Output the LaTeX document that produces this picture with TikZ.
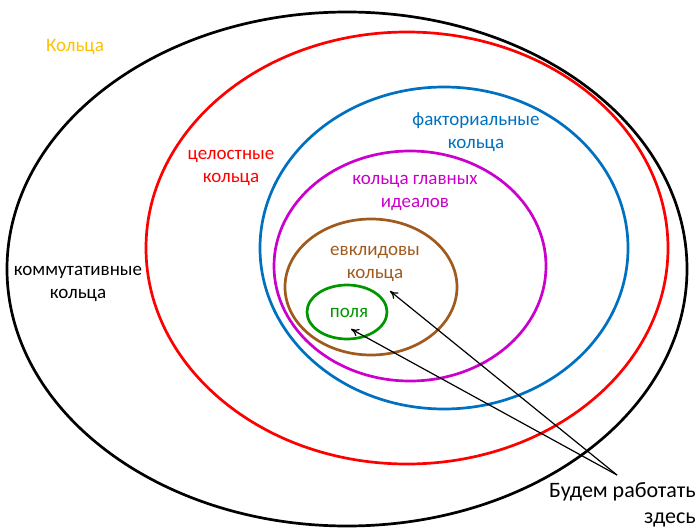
\documentclass[tikz,border=0pt]{standalone}
\usepackage{fontspec}
\setmainfont{Carlito}
\usetikzlibrary{arrows.meta,positioning}
\definecolor{ringgold}{RGB}{255,192,0}
\definecolor{ringred}{RGB}{255,0,0}
\definecolor{ringblue}{RGB}{0,112,192}
\definecolor{ringmag}{RGB}{204,0,204}
\definecolor{ringbrown}{RGB}{160,90,30}
\definecolor{ringgreen}{RGB}{0,150,0}

\begin{document}
\begin{tikzpicture}[x=1pt,y=-1pt,
  ring/.style={line width=2.7pt},
  lbl/.style={font=\fontsize{19}{23}\selectfont,align=center,inner sep=0pt},
  ptr/.style={-{To[length=8pt,width=8pt]},line width=1.2pt}]
\useasboundingbox (0,0) rectangle (697,530);
% nested classes of rings
\draw[ring,black] (347,269) ellipse (340 and 257);
\draw[ring,ringred] (407,248) ellipse (261 and 216);
\draw[ring,ringblue] (444,248) ellipse (184 and 161);
\draw[ring,ringmag] (410,266) ellipse (136 and 115);
\draw[ring,ringbrown] (371,287) ellipse (86 and 68);
\draw[ring,ringgreen] (347,312) ellipse (40 and 27);
% labels
\node[lbl,text=ringgold] (rings) at (75,47) {Кольца};
\node[lbl] (comm) at (78,284) {коммутативные\\кольца};
\node[lbl,text=ringred] (integ) at (231,168) {целостные\\кольца};
\node[lbl,text=ringblue] (fact) at (476,132) {факториальные\\кольца};
\node[lbl,text=ringmag] (pid) at (415,193) {кольца главных\\идеалов};
\node[lbl,text=ringbrown] (eucl) at (375,264) {евклидовы\\кольца};
\node[lbl,text=ringgreen] (fields) at (349,313) {поля};
\node[lbl,font=\fontsize{22}{26}\selectfont,align=right,anchor=north east] (work) at (696,482) {Будем работать\\здесь};
% pointers
\coordinate (src) at (617,475);
\coordinate (eucltip) at (390,291);
\coordinate (fieldtip) at (351,329);
\draw[ptr] (src) -- (eucltip);
\draw[ptr] (src) -- (fieldtip);
\end{tikzpicture}
\end{document}
